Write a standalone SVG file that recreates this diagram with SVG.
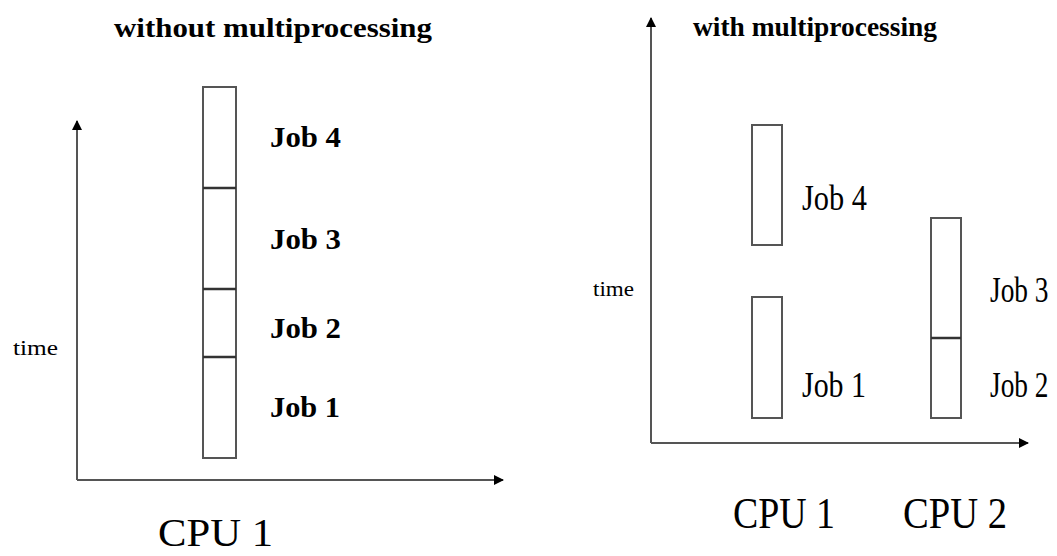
<svg xmlns="http://www.w3.org/2000/svg" width="1057" height="556" viewBox="0 0 1057 556">
<defs>
<style>
.ax{stroke:#555;stroke-width:2;fill:none}
.bx{stroke:#555;stroke-width:2;fill:#fff}
.dv{stroke:#333;stroke-width:2.5}
text{font-family:'Liberation Serif','Times New Roman',Times,serif;fill:#000}
.b{font-weight:bold}
</style>
<marker id="ah" viewBox="0 0 10 10" refX="9" refY="5" markerWidth="10" markerHeight="10" markerUnits="userSpaceOnUse" orient="auto">
<path d="M0,0 L10,5 L0,10 Z" fill="#000"/>
</marker>
</defs>
<rect width="1057" height="556" fill="#fff"/>
<g id="connectors">
<path class="ax" d="M77,480 L77,121" marker-end="url(#ah)"/>
<path class="ax" d="M77,480 L503,480" marker-end="url(#ah)"/>
<path class="ax" d="M651,443 L651,18" marker-end="url(#ah)"/>
<path class="ax" d="M651,443 L1028,443" marker-end="url(#ah)"/>
</g>
<g id="left-title"><text class="b" x="114" y="37" font-size="28" textLength="318" lengthAdjust="spacingAndGlyphs">without multiprocessing</text></g>
<g id="left-time"><text x="13" y="355" font-size="20" textLength="45" lengthAdjust="spacingAndGlyphs">time</text></g>
<g id="left-bar">
<rect class="bx" x="203" y="87" width="33" height="371"/>
<line class="dv" x1="203" y1="188" x2="236" y2="188"/>
<line class="dv" x1="203" y1="289" x2="236" y2="289"/>
<line class="dv" x1="203" y1="357" x2="236" y2="357"/>
</g>
<g id="left-job4"><text class="b" x="270" y="147" font-size="30" textLength="71" lengthAdjust="spacingAndGlyphs">Job 4</text></g>
<g id="left-job3"><text class="b" x="270" y="249" font-size="30" textLength="71" lengthAdjust="spacingAndGlyphs">Job 3</text></g>
<g id="left-job2"><text class="b" x="270" y="338" font-size="30" textLength="71" lengthAdjust="spacingAndGlyphs">Job 2</text></g>
<g id="left-job1"><text class="b" x="270" y="417" font-size="30" textLength="70" lengthAdjust="spacingAndGlyphs">Job 1</text></g>
<g id="left-cpu1"><text x="158" y="546" font-size="40" textLength="115" lengthAdjust="spacingAndGlyphs">CPU 1</text></g>
<g id="right-title"><text class="b" x="693" y="36" font-size="28" textLength="244" lengthAdjust="spacingAndGlyphs">with multiprocessing</text></g>
<g id="right-time"><text x="593" y="296" font-size="20" textLength="41" lengthAdjust="spacingAndGlyphs">time</text></g>
<g id="right-cpu1-job4"><rect class="bx" x="752" y="125" width="30" height="120"/></g>
<g id="right-cpu1-job1"><rect class="bx" x="752" y="297" width="30" height="121"/></g>
<g id="right-cpu2-bar">
<rect class="bx" x="931" y="218" width="30" height="200"/>
<line class="dv" x1="931" y1="338" x2="961" y2="338"/>
</g>
<g id="right-job4"><text x="802" y="210" font-size="36" textLength="65" lengthAdjust="spacingAndGlyphs">Job 4</text></g>
<g id="right-job1"><text x="802" y="397" font-size="36" textLength="64" lengthAdjust="spacingAndGlyphs">Job 1</text></g>
<g id="right-job3"><text transform="translate(990,302) scale(0.76,1)" x="0" y="0" font-size="36">Job 3</text></g>
<g id="right-job2"><text transform="translate(990,397) scale(0.76,1)" x="0" y="0" font-size="36">Job 2</text></g>
<g id="right-cpu1"><text x="733" y="528" font-size="44" textLength="102" lengthAdjust="spacingAndGlyphs">CPU 1</text></g>
<g id="right-cpu2"><text x="903" y="528" font-size="44" textLength="104" lengthAdjust="spacingAndGlyphs">CPU 2</text></g>
</svg>
